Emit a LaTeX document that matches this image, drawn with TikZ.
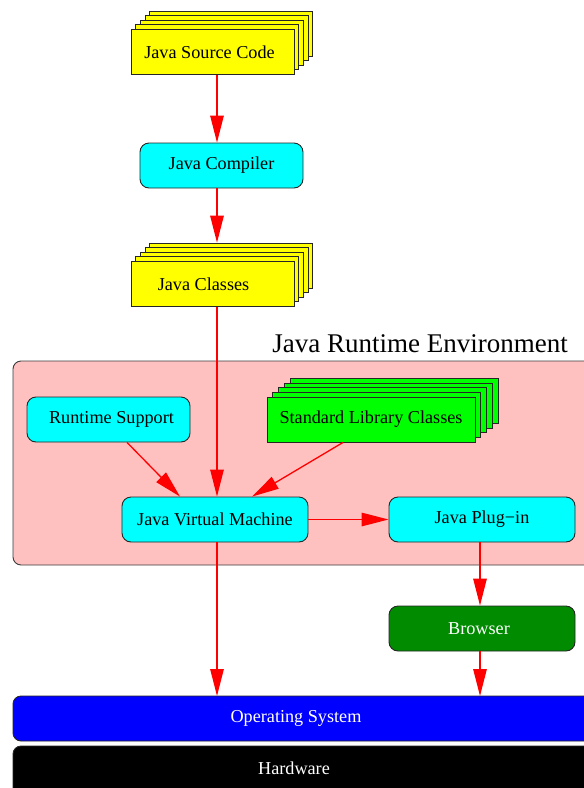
\documentclass[tikz,border=0pt]{standalone}
\usepackage{fontspec}
\setmainfont{Liberation Serif}
\usetikzlibrary{arrows.meta,calc}
\definecolor{jrepink}{RGB}{255,192,192}
\definecolor{browsergreen}{RGB}{0,139,0}
\definecolor{edgegray}{RGB}{60,60,60}
\definecolor{boxcyan}{RGB}{0,255,255}
\definecolor{boxyellow}{RGB}{255,255,0}
\definecolor{boxgreen}{RGB}{0,255,0}
\definecolor{osblue}{RGB}{0,0,255}
\definecolor{arrowred}{RGB}{255,0,0}
\newcommand{\nodefont}{\fontsize{18.2}{22}\selectfont}
\newcommand{\clusterfont}{\fontsize{27}{30}\selectfont}
\tikzset{
  box/.style={draw=black!85, line width=0.9pt, minimum width=163pt, minimum height=45pt, inner sep=0pt, font=\nodefont},
  rbox/.style={box, rounded corners=9pt, fill=boxcyan},
  widebox/.style={rbox, minimum width=186pt},
  stackyellow/.style={box, fill=boxyellow},
  stackgreen/.style={box, fill=boxgreen, minimum width=208pt},
  layer/.style={draw=black!85, line width=0.9pt, rounded corners=8pt},
  cluster/.style={draw=edgegray, line width=0.9pt, rounded corners=8pt, fill=jrepink},
  arr/.style={arrowred, line width=1.3pt, -{Triangle[length=27pt,width=13.5pt]}},
  whitetext/.style={text=white, font=\nodefont}
}
\begin{document}
\begin{tikzpicture}[x=1pt,y=-1pt]
\useasboundingbox (0,0) rectangle (584,788);

% cluster
\draw[cluster] (13,361) rectangle (610,565);
\node[anchor=base east, font=\clusterfont, inner sep=0pt] (jrelabel) at (568,352) {Java Runtime Environment};

% bottom layers
\draw[layer, fill=osblue] (13,696) rectangle (610,741);
\node[whitetext] (os) at (296,718) {Operating System};
\coordinate (osn) at (296,696);
\draw[layer, fill=black] (13,746) rectangle (610,810);
\node[whitetext] (hw) at (294,768) {Hardware};

% Java Source Code stack
\coordinate (jscc) at (212.5,52);
\foreach \i in {4,3,2,1} \node[stackyellow] (jscb\i) at ($(jscc)+(\i*4.7,-\i*4.6)$) {};
\node[stackyellow] (jsc) at (jscc) {\hspace*{-6pt}Java Source Code};

% Java Compiler
\node[rbox] (comp) at (221.5,165.5) {Java Compiler};

% Java Classes stack
\coordinate (jcc) at (212.5,284);
\foreach \i in {4,3,2,1} \node[stackyellow] (jcb\i) at ($(jcc)+(\i*4.7,-\i*4.6)$) {};
\node[stackyellow] (jc) at (jcc) {\hspace*{-18pt}Java Classes};

% Runtime Support
\node[rbox] (rs) at (108.5,419.5) {\hspace*{6pt}Runtime Support};

% Standard Library stack
\coordinate (slc) at (371,419.5);
\foreach \i in {4,3,2,1} \node[stackgreen] (slb\i) at ($(slc)+(\i*5.8,-\i*4.6)$) {};
\node[stackgreen] (sl) at (slc) {Standard Library Classes};

% JVM and plug-in
\node[widebox] (jvm) at (215,519.5) {Java Virtual Machine};
\node[widebox] (plug) at (482,519.5) {Java Plug{\char"2212}in};

% Browser
\node[widebox, fill=browsergreen, text=white] (brow) at (482,628.5) {\hspace*{-6pt}Browser};

% arrows
\coordinate (ax) at (217,0);
\coordinate (bx) at (480,0);
\draw[arr] (jsc.south -| ax) -- (comp.north -| ax);
\draw[arr] (comp.south -| ax) -- (jcb4.north -| ax);
\draw[arr] (jc.south -| ax) -- (jvm.north -| ax);
\draw[arr] ([xshift=18.5pt]rs.south) -- ([xshift=-35pt]jvm.north);
\draw[arr] ([xshift=-28pt]sl.south) -- ([xshift=37pt]jvm.north);
\draw[arr] (jvm.east) -- (plug.west);
\draw[arr] (plug.south -| bx) -- (brow.north -| bx);
\draw[arr] (brow.south -| bx) -- (osn -| bx);
\draw[arr] (jvm.south -| ax) -- (osn -| ax);
\end{tikzpicture}
\end{document}
